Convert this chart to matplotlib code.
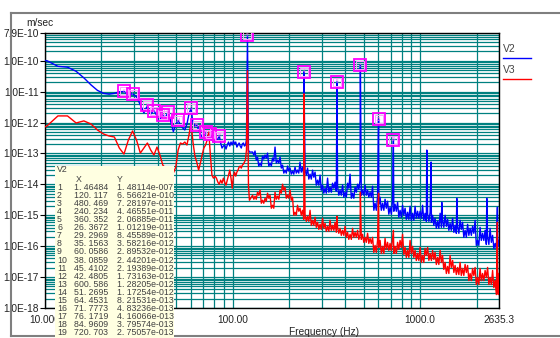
import numpy as np
import matplotlib
matplotlib.use("Agg")
import matplotlib.pyplot as plt
from matplotlib.patches import Rectangle
from matplotlib.lines import Line2D
from matplotlib.ticker import FixedLocator, LogLocator, NullFormatter

plt.rcParams['font.family'] = ['Liberation Sans', 'DejaVu Sans']

# peak table for V2 (X in Hz, Y in m/sec)
peak_x = [1.46484, 120.117, 480.469, 240.234, 360.352, 26.3672, 29.2969, 35.1563,
          60.0586, 38.0859, 45.4102, 42.4805, 600.586, 51.2695, 64.4531, 71.7773,
          76.1719, 84.9609, 720.703]
peak_y = [1.48114e-07, 6.56621e-10, 7.28197e-11, 4.46551e-11, 2.06885e-11, 1.01219e-11,
          8.45589e-12, 3.58216e-12, 2.89532e-12, 2.44201e-12, 2.19389e-12, 1.73163e-12,
          1.28205e-12, 1.17254e-12, 8.21531e-13, 4.83236e-13, 4.16066e-13, 3.79574e-13,
          2.75057e-13]

# V2 low-frequency trace (peak bins come from the table)
v2_f_low = [8.79, 10.25, 11.72, 13.18, 14.65, 16.11, 17.58, 19.04, 20.51, 21.97,
            23.44, 24.90, 27.83, 30.76, 32.23, 33.69, 36.62, 39.55, 41.02, 43.95,
            46.88, 48.34, 49.80, 52.73, 54.20, 55.66, 57.13, 58.59, 61.52, 62.99,
            65.92, 67.38, 68.85, 70.31, 73.24, 74.71, 77.64, 79.10, 80.57, 82.03,
            83.50, 86.43, 87.89, 89.36, 90.82, 92.29, 93.75, 95.21, 96.68, 98.14,
            99.61, 101.07, 102.54, 104.00, 105.47, 106.93, 108.40, 109.86, 111.33, 112.79,
            114.26, 115.72, 117.19, 118.65, 121.58, 123.05]
v2_low = [1.1e-10, 1.0e-10, 6.6e-11, 6.2e-11, 4.56e-11, 2.8e-11, 1.66e-11, 1.10e-11, 8.8e-12, 8.3e-12,
          8.8e-12, 9.9e-12, 7.87e-12, 6.78e-12, 3.73e-12, 2.05e-12, 1.90e-12, 1.64e-12, 1.31e-12, 1.52e-12,
          1.04e-12, 5.1e-13, 8.4e-13, 8.4e-13, 6.7e-13, 5.75e-13, 9.0e-13, 1.9e-12, 9.7e-13, 7.8e-13,
          5.75e-13, 4.27e-13, 3.41e-13, 3.67e-13, 3.67e-13, 3.41e-13, 2.72e-13, 2.34e-13, 2.53e-13, 2.72e-13,
          2.93e-13, 2.18e-13, 1.50e-13, 1.74e-13, 1.88e-13, 1.39e-13, 1.88e-13, 2.34e-13, 1.74e-13, 2.34e-13,
          1.88e-13, 2.53e-13, 2.02e-13, 2.34e-13, 1.61e-13, 1.88e-13, 2.18e-13, 1.74e-13, 1.50e-13, 2.02e-13,
          2.18e-13, 1.74e-13, 1.88e-13, 2.72e-13, 1.29e-13, 1.11e-13]

# V3 low-frequency trace
v3_f_low = [8.79, 10.25, 11.72, 13.18, 14.65, 16.11, 17.58, 19.04, 20.51, 21.97,
            23.44, 24.90, 26.37, 27.83, 29.30, 30.76, 32.23, 33.69, 35.16, 36.62,
            38.09, 39.55, 41.02, 42.48, 43.95, 45.41, 46.88, 48.34, 49.80, 51.27,
            52.73, 54.20, 55.66, 57.13, 58.59, 60.06, 61.52, 62.99, 64.45, 65.92,
            67.38, 68.85, 70.31, 71.78, 73.24, 74.71, 76.17, 77.64, 79.10, 80.57,
            82.03, 83.50, 84.96, 86.43, 87.89, 89.36, 90.82, 92.29, 93.75, 95.21,
            96.68, 98.14, 99.61, 101.07, 102.54, 104.00, 105.47, 106.93, 108.40, 109.86,
            111.33, 112.79, 114.26, 115.72, 117.19, 118.65, 121.58, 123.05]
v3_low = [5.0e-13, 7.8e-13, 1.64e-12, 1.64e-12, 9.7e-13, 1.13e-12, 9.0e-13, 5.75e-13, 4.27e-13, 3.67e-13,
          3.41e-13, 1.50e-13, 9.55e-14, 2.72e-13, 5.33e-13, 2.72e-13, 1.03e-13, 1.50e-13, 2.18e-13, 1.29e-13,
          8.87e-14, 1.61e-13, 8.87e-14, 4.20e-14, 3.36e-14, 2.49e-14, 2.31e-14, 2.31e-14, 3.61e-14, 1.29e-13,
          2.18e-13, 2.02e-13, 2.34e-13, 1.88e-13, 3.96e-13, 9.7e-13, 2.34e-13, 8.24e-14, 5.26e-14, 2.89e-14,
          4.88e-14, 8.87e-14, 1.50e-13, 1.88e-13, 2.72e-13, 4.95e-13, 8.87e-14, 1.99e-14, 1.59e-14, 1.85e-14,
          1.59e-14, 1.18e-14, 1.01e-14, 1.37e-14, 1.09e-14, 1.59e-14, 1.18e-14, 9.42e-15, 1.37e-14, 1.99e-14,
          2.89e-14, 1.59e-14, 7.53e-15, 1.85e-14, 2.49e-14, 1.85e-14, 2.49e-14, 2.89e-14, 3.61e-14, 3.90e-14,
          3.36e-14, 4.20e-14, 4.53e-14, 5.26e-14, 6.11e-14, 1.29e-13, 9.42e-15, 3.07e-15]

# high-frequency readings, upper side of the noise (shared frequencies)
f_high = [127.9, 131.8, 135.9, 140.2, 144.5, 149.0, 153.7, 158.5, 163.4, 168.5,
          173.8, 179.2, 184.8, 190.5, 196.5, 202.6, 208.9, 215.4, 222.1, 229.0,
          236.2, 243.6, 251.2, 259.0, 267.1, 275.4, 284.0, 292.9, 302.0, 311.4,
          321.2, 331.1, 341.5, 352.1, 363.1, 374.4, 386.1, 398.1, 410.5, 423.3,
          436.5, 450.1, 464.2, 478.6, 493.5, 508.9, 524.8, 541.2, 558.1, 575.4,
          593.4, 611.9, 631.0, 650.6, 670.9, 691.8, 713.4, 735.6, 758.6, 782.2,
          806.6, 831.8, 857.7, 884.4, 912.0, 940.5, 969.8, 1000, 1031, 1063,
          1097, 1131, 1166, 1202, 1240, 1279, 1318, 1360, 1402, 1445,
          1491, 1537, 1585, 1634, 1685, 1738, 1792, 1848, 1905, 1965,
          2026, 2089, 2154, 2222, 2291, 2362, 2436, 2512, 2590, 2635]
v2_high = [1.11e-13, 1.20e-13, 7.64e-14, 4.88e-14, 8.24e-14, 8.87e-14, 1.03e-13, 4.88e-14, 7.10e-14, 1.61e-13,
           6.11e-14, 7.64e-14, 4.20e-14, 2.89e-14, 3.90e-14, 3.36e-14, 2.69e-14, 3.61e-14, 2.89e-14, 5.26e-14,
           3.61e-14, 2.89e-14, 3.36e-14, 2.14e-14, 2.89e-14, 2.49e-14, 1.37e-14, 1.99e-14, 9.42e-15, 7.53e-15,
           1.59e-14, 8.11e-15, 1.09e-14, 1.18e-14, 8.73e-15, 6.49e-15, 9.42e-15, 5.58e-15, 1.09e-14, 2.14e-14,
           5.18e-15, 8.11e-15, 1.01e-14, 1.37e-14, 6.49e-15, 9.42e-15, 6.49e-15, 5.58e-15, 8.73e-15, 2.45e-15,
           4.14e-15, 3.84e-15, 2.45e-15, 3.30e-15, 2.84e-15, 1.82e-15, 3.07e-15, 2.28e-15, 2.64e-15, 1.45e-15,
           2.11e-15, 1.69e-15, 1.25e-15, 1.96e-15, 1.16e-15, 1.96e-15, 1.35e-15, 1.35e-15, 2.11e-15, 1.16e-15,
           1.08e-15, 1.25e-15, 1.00e-15, 8.00e-16, 6.38e-16, 1.16e-15, 6.89e-16, 1.00e-15, 7.41e-16, 5.50e-16,
           8.00e-16, 4.73e-16, 4.40e-16, 6.89e-16, 5.93e-16, 3.26e-16, 5.10e-16, 3.78e-16, 4.40e-16, 6.89e-16,
           1.54e-16, 4.07e-16, 2.61e-16, 3.26e-16, 1.93e-16, 3.78e-16, 2.24e-16, 1.23e-16, 2.08e-16, 1.54e-16]
v3_high = [4.46e-15, 4.14e-15, 5.58e-15, 6.49e-15, 3.07e-15, 3.56e-15, 5.18e-15, 4.46e-15, 2.11e-15, 5.58e-15,
           4.14e-15, 6.49e-15, 1.01e-14, 8.11e-15, 4.46e-15, 6.49e-15, 3.84e-15, 1.25e-15, 2.11e-15, 1.69e-15,
           1.45e-15, 1.08e-15, 9.29e-16, 1.45e-15, 6.89e-16, 8.61e-16, 5.93e-16, 5.10e-16, 8.00e-16, 5.50e-16,
           4.40e-16, 6.89e-16, 4.73e-16, 5.93e-16, 4.07e-16, 3.78e-16, 3.26e-16, 4.40e-16, 2.81e-16, 2.42e-16,
           3.78e-16, 2.81e-16, 3.26e-16, 2.42e-16, 2.42e-16, 1.93e-16, 2.61e-16, 1.79e-16, 1.93e-16, 1.06e-16,
           1.54e-16, 1.54e-16, 9.86e-17, 1.79e-16, 1.33e-16, 1.23e-16, 1.79e-16, 9.86e-17, 1.33e-16, 1.54e-16,
           2.42e-16, 9.14e-17, 7.31e-17, 1.54e-16, 9.86e-17, 7.31e-17, 5.83e-17, 9.14e-17, 5.02e-17, 8.47e-17,
           9.14e-17, 5.83e-17, 7.31e-17, 6.30e-17, 4.33e-17, 7.31e-17, 5.02e-17, 2.98e-17, 2.21e-17, 5.02e-17,
           3.46e-17, 2.38e-17, 2.05e-17, 2.98e-17, 1.90e-17, 2.56e-17, 2.38e-17, 1.31e-17, 1.90e-17, 2.05e-17,
           9.70e-18, 1.90e-17, 1.31e-17, 1.64e-17, 2.05e-17, 9.70e-18, 1.64e-17, 7.74e-18, 4.59e-18, 1.31e-17]

# high-frequency readings, troughs of the noise
f_mid = [129.9, 133.8, 138.0, 142.4, 146.7, 151.3, 156.1, 161.0, 165.9, 171.1,
         176.5, 182.0, 187.7, 193.5, 199.5, 205.7, 212.1, 218.7, 225.5, 232.5,
         239.9, 247.4, 255.1, 263.0, 271.2, 279.7, 288.4, 297.4, 306.7, 316.2,
         326.2, 336.2, 346.8, 357.6, 368.7, 380.2, 392.1, 404.3, 416.9, 429.9,
         443.3, 457.1, 471.4, 486.0, 501.1, 516.8, 532.9, 549.6, 566.8, 584.3,
         602.6, 621.4, 640.8, 660.7, 681.3, 702.5, 724.5, 747.0, 770.4, 794.3,
         819.1, 844.7, 871.0, 898.1, 926.1, 955.1, 984.8, 1016, 1047, 1080,
         1114, 1149, 1184, 1221, 1259, 1299, 1338, 1381, 1424, 1467,
         1514, 1561, 1610, 1659, 1711, 1765, 1820, 1877, 1935, 1995,
         2057, 2121, 2187, 2256, 2327, 2399, 2474, 2551, 2613]
v2_mid = [8.87e-14, 6.11e-14, 3.90e-14, 3.90e-14, 6.58e-14, 7.10e-14, 3.90e-14, 3.90e-14, 5.66e-14, 4.88e-14,
          4.88e-14, 3.36e-14, 2.31e-14, 2.31e-14, 2.69e-14, 2.14e-14, 2.14e-14, 2.31e-14, 2.31e-14, 2.49e-14,
          1.99e-14, 1.99e-14, 1.48e-14, 1.48e-14, 1.71e-14, 9.42e-15, 9.42e-15, 6.49e-15, 5.18e-15, 5.18e-15,
          5.58e-15, 5.58e-15, 7.53e-15, 6.01e-15, 4.46e-15, 4.46e-15, 3.84e-15, 3.84e-15, 7.53e-15, 3.56e-15,
          3.56e-15, 5.58e-15, 6.98e-15, 4.46e-15, 4.46e-15, 4.46e-15, 3.84e-15, 3.84e-15, 1.45e-15, 1.45e-15,
          2.28e-15, 1.45e-15, 1.45e-15, 1.69e-15, 1.08e-15, 1.08e-15, 1.35e-15, 1.35e-15, 8.61e-16, 8.61e-16,
          1.00e-15, 7.41e-16, 7.41e-16, 6.89e-16, 6.89e-16, 8.00e-16, 8.00e-16, 8.00e-16, 6.89e-16, 6.38e-16,
          6.38e-16, 5.93e-16, 4.73e-16, 3.78e-16, 3.78e-16, 4.07e-16, 4.07e-16, 4.40e-16, 3.26e-16, 3.26e-16,
          2.81e-16, 2.61e-16, 2.61e-16, 3.51e-16, 1.93e-16, 1.93e-16, 2.24e-16, 2.24e-16, 2.61e-16, 1.06e-16,
          1.06e-16, 1.54e-16, 1.54e-16, 1.14e-16, 1.14e-16, 1.33e-16, 8.47e-17, 8.47e-17, 9.86e-17]
v3_mid = [3.30e-15, 3.30e-15, 4.46e-15, 2.45e-15, 2.45e-15, 2.84e-15, 3.56e-15, 1.69e-15, 1.69e-15, 3.30e-15,
          3.30e-15, 5.18e-15, 6.49e-15, 3.56e-15, 3.56e-15, 3.07e-15, 1.00e-15, 1.00e-15, 1.35e-15, 1.00e-15,
          7.41e-16, 6.38e-16, 6.38e-16, 4.73e-16, 4.73e-16, 4.07e-16, 3.51e-16, 3.51e-16, 3.78e-16, 3.03e-16,
          3.03e-16, 3.26e-16, 3.26e-16, 2.81e-16, 2.61e-16, 2.24e-16, 2.24e-16, 1.93e-16, 1.66e-16, 1.66e-16,
          1.93e-16, 1.93e-16, 1.66e-16, 1.66e-16, 1.33e-16, 1.33e-16, 1.23e-16, 1.23e-16, 6.30e-17, 6.30e-17,
          9.14e-17, 5.83e-17, 5.83e-17, 7.87e-17, 7.31e-17, 7.31e-17, 5.83e-17, 5.83e-17, 7.87e-17, 9.14e-17,
          5.42e-17, 4.33e-17, 4.33e-17, 5.83e-17, 4.33e-17, 3.46e-17, 3.46e-17, 2.98e-17, 2.98e-17, 5.02e-17,
          3.46e-17, 3.46e-17, 3.72e-17, 2.56e-17, 2.56e-17, 2.98e-17, 1.77e-17, 1.31e-17, 1.31e-17, 2.05e-17,
          1.41e-17, 1.21e-17, 1.21e-17, 1.13e-17, 1.13e-17, 1.41e-17, 7.74e-18, 7.74e-18, 1.13e-17, 5.75e-18,
          5.75e-18, 7.74e-18, 7.74e-18, 9.70e-18, 5.75e-18, 5.75e-18, 4.59e-18, 2.72e-18, 2.72e-18]

# smaller spikes not in the peak table
v2_spike_f = [1086, 1145, 1305, 1569, 2268, 2584]
v2_spike_v = [1.29e-13, 5.26e-14, 2.64e-15, 3.56e-15, 3.56e-15, 1.82e-15]
v3_spike_f = [120.12, 240.23, 360.35, 480.47, 600.59, 720.70, 2584]
v3_spike_v = [4.73e-11, 8.49e-12, 9.29e-16, 5.58e-15, 5.18e-15, 3.26e-16, 5.93e-16]


def merge(*pairs):
    f = np.concatenate([np.asarray(p[0], float) for p in pairs])
    v = np.concatenate([np.asarray(p[1], float) for p in pairs])
    order = np.argsort(f)
    return f[order], v[order]


f2, y2 = merge((v2_f_low, v2_low), (f_high, v2_high), (f_mid, v2_mid),
               (peak_x[1:], peak_y[1:]), (v2_spike_f, v2_spike_v))
f3, y3 = merge((v3_f_low, v3_low), (f_high, v3_high), (f_mid, v3_mid),
               (v3_spike_f, v3_spike_v))

W, H = 560, 338
fig = plt.figure(figsize=(W / 100, H / 100), dpi=100)
fig.patch.set_facecolor('white')


def fx(px):
    return px / W


def fy(py):
    return 1 - py / H


ax = fig.add_axes([fx(45), fy(308), fx(499) - fx(45), fy(33) - fy(308)])
ax.set_xscale('log')
ax.set_yscale('log')
ax.set_xlim(10, 2635.3)
ax.set_ylim(1e-18, 7.9e-10)

yt = [1e-18, 1e-17, 1e-16, 1e-15, 1e-14, 1e-13, 1e-12, 1e-11, 1e-10, 7.9e-10]
yl = ['1.0E-18', '1.0E-17', '1.0E-16', '1.0E-15', '1.0E-14', '1.0E-13',
      '1.0E-12', '1.0E-11', '1.0E-10', '7.9E-10']
xt = [10, 100, 1000, 2635.3]
xl = ['10.000', '100.00', '1000.0', '2635.3']

ax.yaxis.set_major_locator(FixedLocator(yt))
ax.set_yticklabels(yl)
ax.yaxis.set_minor_locator(LogLocator(base=10, subs=np.arange(2, 10), numticks=60))
ax.yaxis.set_minor_formatter(NullFormatter())
ax.xaxis.set_major_locator(FixedLocator(xt))
ax.set_xticklabels(xl)
ax.xaxis.set_minor_locator(LogLocator(base=10, subs=np.arange(2, 10), numticks=60))
ax.xaxis.set_minor_formatter(NullFormatter())

ax.tick_params(axis='y', which='major', length=3.5, width=0.8, pad=1,
               labelsize=7.3, labelcolor='#222222')
ax.tick_params(axis='x', which='major', length=0, pad=5, labelsize=7.3, labelcolor='#222222')
ax.tick_params(which='minor', length=0)
ax.grid(True, which='both', color='#008080', lw=0.9)
ax.set_axisbelow(True)
for s in ax.spines.values():
    s.set_color('black')
    s.set_linewidth(1.0)

ax.plot(f2, y2, color='#0000ff', lw=1.0, zorder=3)
ax.plot(f3, y3, color='#ff0000', lw=1.0, zorder=4)

# peak markers
for i in range(1, len(peak_x)):
    ax.plot(peak_x[i], peak_y[i], 's', ms=8, mfc='none', mec='#ff00ff', mew=1.3, zorder=5)
    ax.plot(peak_x[i], peak_y[i], 's', ms=5.5, mfc='none', mec='#ff99ff', mew=0.7, zorder=5)
    ax.text(peak_x[i], peak_y[i], str(i + 1), fontsize=3.5, color='#ff66ff',
            ha='center', va='center', zorder=6)

# labels
fig.text(fx(26), fy(23), 'm/sec', fontsize=7.3, color='#222222', va='center', ha='left')
fig.text(fx(324), fy(332), 'Frequency (Hz)', fontsize=7.3, color='#222222',
         va='center', ha='center')

# legend
fig.text(fx(503), fy(49), 'V2', fontsize=7.5, color='#444444', va='center', ha='left')
fig.text(fx(503), fy(70), 'V3', fontsize=7.5, color='#444444', va='center', ha='left')
fig.add_artist(Line2D([fx(503), fx(531)], [fy(57.5), fy(57.5)], color='#0000ff', lw=1.0))
fig.add_artist(Line2D([fx(503), fx(531)], [fy(78.5), fy(78.5)], color='#ff0000', lw=1.0))

# outer frame
fc = '#7f7f7f'
fig.add_artist(Line2D([fx(11), 1], [fy(13), fy(13)], color=fc, lw=1.5))
fig.add_artist(Line2D([fx(11), fx(11)], [fy(13), fy(336)], color=fc, lw=1.5))
fig.add_artist(Line2D([fx(11), 1], [fy(336), fy(336)], color=fc, lw=1.5))

# peak table overlay
box = Rectangle((fx(55), 0), fx(174) - fx(55), fy(166), facecolor='#ffffe1',
                edgecolor='none', zorder=10)
fig.add_artist(box)
tc = '#404040'
ts = 6.3
fig.text(fx(57), fy(170), 'V2', fontsize=ts, color=tc, va='center', zorder=11)
fig.text(fx(76), fy(179.5), 'X', fontsize=ts, color=tc, va='center', zorder=11)
fig.text(fx(117), fy(179.5), 'Y', fontsize=ts, color=tc, va='center', zorder=11)
for i, (px_, py_) in enumerate(zip(peak_x, peak_y)):
    yy = fy(187.5 + i * 8.06)
    m, e = f"{py_:.5e}".split('e')
    xs = f"{px_:.6g}".replace('.', '. ')
    ys = m.replace('.', '. ') + 'e' + format(int(e), '+04d')
    fig.text(fx(57), yy, str(i + 1), fontsize=ts, color=tc, va='center', zorder=11)
    fig.text(fx(74), yy, xs, fontsize=ts, color=tc, va='center', zorder=11)
    t = fig.text(fx(117), yy, ys, fontsize=ts, color=tc, va='center', zorder=11)
    t.set_clip_path(box)

fig.savefig('out.png', dpi=100)
